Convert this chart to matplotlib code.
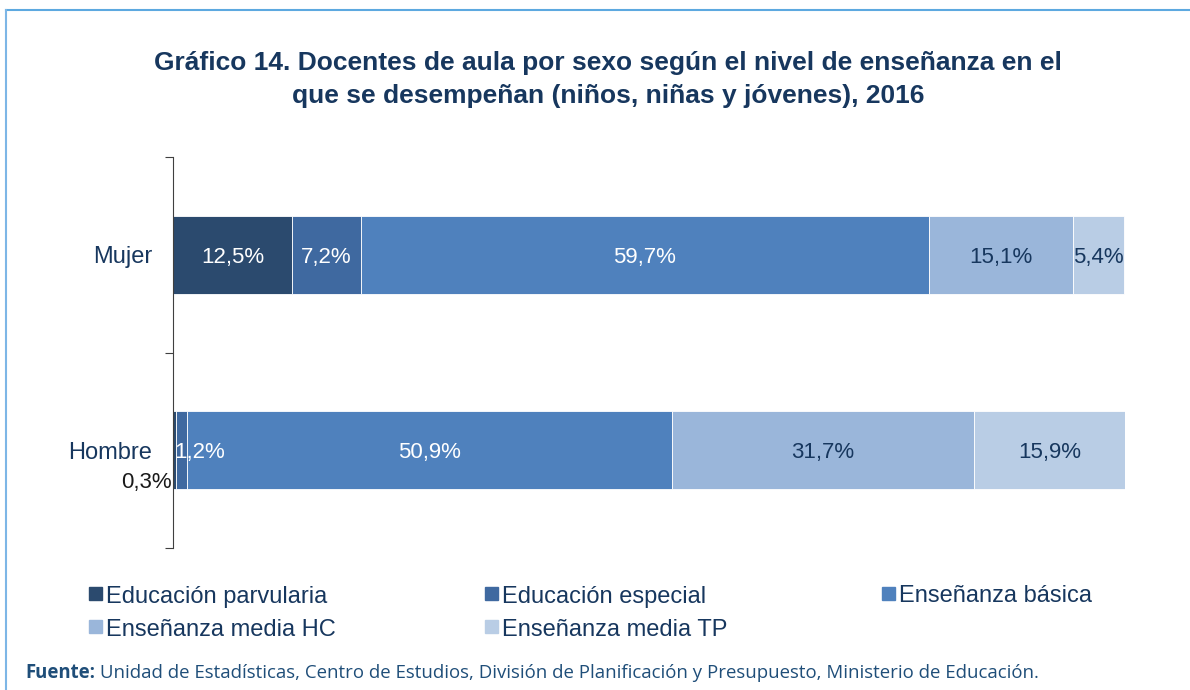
import matplotlib
matplotlib.use("Agg")
import matplotlib.pyplot as plt
from matplotlib.patches import Rectangle
from matplotlib.lines import Line2D

plt.rcParams['font.family'] = ['Liberation Sans', 'DejaVu Sans']

# data
groups = ['Hombre', 'Mujer']
niveles = ['Educación parvularia', 'Educación especial', 'Enseñanza básica',
           'Enseñanza media HC', 'Enseñanza media TP']
mujer = [12.5, 7.2, 59.7, 15.1, 5.4]
hombre = [0.3, 1.2, 50.9, 31.7, 15.9]
colores = ['#2B4A6E', '#3F69A0', '#4F81BD', '#9AB6DA', '#B9CDE5']
label_col = ['white', 'white', 'white', '#17375E', '#17375E']

navy = '#17375E'
W, H = 1190, 690
fig = plt.figure(figsize=(W / 100, H / 100), dpi=100)
ax = fig.add_axes([173 / W, 1 - 548 / H, (1125 - 173) / W, (548 - 157) / H])

valores = {'Hombre': hombre, 'Mujer': mujer}
for yi, g in enumerate(groups):
    left = 0
    for k, v in enumerate(valores[g]):
        ax.barh(yi, v, left=left, height=0.40, color=colores[k],
                edgecolor='white', linewidth=0.6)
        txt = f"{v:.1f}%".replace('.', ',')
        if g == 'Hombre' and k == 0:
            ax.text(left - 0.1, yi - 0.15, txt, ha='right', va='center_baseline',
                    fontsize=16, color='#1a1a1a')
        elif g == 'Hombre' and k == 1:
            ax.text(0.1, yi, txt, ha='left', va='center_baseline',
                    fontsize=16, color=label_col[k])
        else:
            ax.text(left + v / 2, yi, txt, ha='center', va='center_baseline',
                    fontsize=16, color=label_col[k])
        left += v

ax.set_xlim(0, 100)
ax.set_ylim(-0.5, 1.5)
for s in ['top', 'right', 'bottom']:
    ax.spines[s].set_visible(False)
ax.spines['left'].set_color('#404040')
ax.xaxis.set_visible(False)
ax.set_yticks([-0.5, 0.5, 1.5])
ax.set_yticklabels([])
ax.tick_params(axis='y', which='major', length=6, color='#404040', direction='out')
ax.set_yticks([0, 1], minor=True)
ax.set_yticklabels(groups, minor=True, fontsize=17, color=navy)
ax.tick_params(axis='y', which='minor', length=0, pad=15)

# title
fig.text(608 / W, 1 - 63 / H, 'Gráfico 14. Docentes de aula por sexo según el nivel de enseñanza en el',
         ha='center', va='center', fontsize=19, fontweight='bold', color=navy)
fig.text(608 / W, 1 - 96 / H, 'que se desempeñan (niños, niñas y jóvenes), 2016',
         ha='center', va='center', fontsize=19, fontweight='bold', color=navy)

# legend
col_x = [89, 485, 882]
row_y = [594, 627]
for i, name in enumerate(niveles):
    cx = col_x[i % 3]
    cy = row_y[i // 3]
    fig.patches.append(Rectangle((cx / W, 1 - (cy + 6) / H), 13 / W, 13 / H,
                                 transform=fig.transFigure, color=colores[i]))
    fig.text((cx + 17) / W, 1 - cy / H, name, ha='left', va='center_baseline',
             fontsize=17, color=navy)

# source
src_font = ['Open Sans', 'DejaVu Sans']
t1 = fig.text(25 / W, 1 - 673 / H, 'Fuente:', ha='left', va='center', fontsize=13.4,
              fontweight='bold', color='#1F4E79', family=src_font)
r = fig.canvas.get_renderer()
x_end = t1.get_window_extent(r).x1
fig.text((x_end + 5) / W, 1 - 673 / H,
         'Unidad de Estadísticas, Centro de Estudios, División de Planificación y Presupuesto, Ministerio de Educación.',
         ha='left', va='center', fontsize=13.4, color='#1F4E79', family=src_font)

# frame lines
fig.add_artist(Line2D([6 / W, 1], [1 - 10 / H, 1 - 10 / H], color='#5DA9E0', linewidth=1.5))
fig.add_artist(Line2D([6 / W, 6 / W], [0, 1 - 10 / H], color='#7DB6E6', linewidth=1.5))

fig.savefig('out.png', dpi=100)
